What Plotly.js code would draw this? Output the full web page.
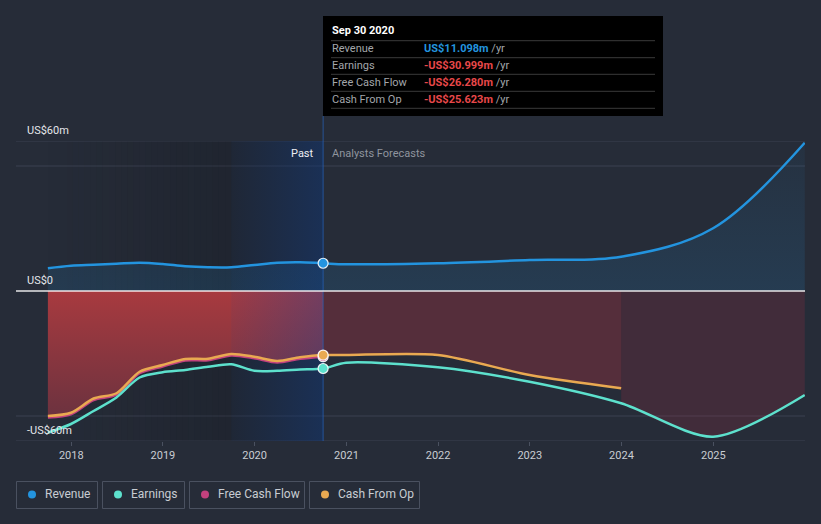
<!DOCTYPE html>
<html><head><meta charset="utf-8">
<script src="https://cdn.plot.ly/plotly-3.0.1.min.js"></script>
<style>html,body{margin:0;padding:0;background:#262c38;}#chart{width:821px;height:524px;}</style>
</head><body><div id="chart"></div>
<script>
// ---- data (US$ millions) ----
const pastDates = ['2017-09-30','2017-12-31','2018-03-31','2018-06-30','2018-09-30','2018-12-31','2019-03-31','2019-06-30','2019-09-30','2019-12-31','2020-03-31','2020-06-30','2020-09-30'];
const revenuePast  = [9.1, 10.1, 10.5, 10.9, 11.3, 10.8, 9.9, 9.5, 9.5, 10.4, 11.3, 11.5, 11.098];
const earningsPast = [-56.7, -53.2, -48.0, -42.6, -34.6, -32.5, -31.6, -30.3, -29.3, -31.9, -31.9, -31.4, -30.999];
const fcfPast      = [-50.6, -49.3, -43.6, -41.5, -32.9, -30.2, -27.8, -27.7, -25.8, -26.9, -28.6, -27.1, -26.280];
const cfoPast      = [-50.0, -48.7, -43.0, -40.9, -32.3, -29.6, -27.2, -27.1, -25.2, -26.3, -28.0, -26.5, -25.623];
const forecastDates    = ['2020-12-31','2021-12-31','2022-12-31','2023-12-31','2024-12-31','2025-12-31'];
const revenueForecast  = [10.7, 11.1, 12.4, 13.7, 25.1, 59.3];
const earningsForecast = [-28.7, -30.5, -36.3, -44.9, -58.3, -41.6];
const cfoForecast      = [-25.6, -25.6, -33.6, -38.9];
const yearTicks  = ['2018-01-01','2019-01-01','2020-01-01','2021-01-01','2022-01-01','2023-01-01','2024-01-01','2025-01-01'];
const yearLabels = ['2018','2019','2020','2021','2022','2023','2024','2025'];
const yLabelVals = [60, 0, -60];
const yLabelText = ['US$60m', 'US$0', '-US$60m'];
const seriesNames  = ['Revenue', 'Earnings', 'Free Cash Flow', 'Cash From Op'];
const seriesColors = ['#2394df', '#5de1cd', '#c2417e', '#e9a951'];

// ---- layout helpers ----
const W = 821, H = 524, ML = 16, MR = 16, MT = 141, MB = 83;
const PW = W - ML - MR, PH = H - MT - MB;
const px = x => (x - ML) / PW;
const py = y => (H - MB - y) / PH;
const Y_RANGE = [-60, 60];
const X_RANGE = ['2017-05-26', '2026-01-01'];
const FONT = 'Roboto, "Open Sans", sans-serif';
const ms = d => new Date(d + 'T00:00:00Z').getTime();
const iso = t => new Date(t).toISOString().slice(0, 19).replace('T', ' ');

const lastPast = pastDates[pastDates.length - 1];
const yearBefore = pastDates[pastDates.length - 5];
const revAllX = pastDates.concat(forecastDates), revAllY = revenuePast.concat(revenueForecast);
const earnAllX = pastDates.concat(forecastDates), earnAllY = earningsPast.concat(earningsForecast);
const cfoFX = [lastPast].concat(forecastDates.slice(0, cfoForecast.length));
const cfoFY = [cfoPast[cfoPast.length - 1]].concat(cfoForecast);
const cfoAllX = pastDates.concat(forecastDates.slice(0, cfoForecast.length));
const cfoAllY = cfoPast.concat(cfoForecast);
const earnFillX = forecastDates.slice(cfoForecast.length - 1);
const earnFillY = earningsForecast.slice(cfoForecast.length - 1);

const sp = {shape: 'spline', smoothing: 0.8};
const spR = {shape: 'spline', smoothing: 1.0};
const traces = [];
// revenue area
traces.push({x: revAllX, y: revAllY, type: 'scatter', mode: 'lines', line: Object.assign({width: 0}, spR),
  fill: 'tozeroy', fillgradient: {type: 'vertical', start: 0, stop: 60,
  colorscale: [[0, 'rgba(35,148,223,0.15)'], [1, 'rgba(35,148,223,0.05)']]}, hoverinfo: 'skip'});
// cash-from-op past area (gradient red)
traces.push({x: pastDates, y: cfoPast, type: 'scatter', mode: 'lines', line: Object.assign({width: 0}, sp),
  fill: 'tozeroy', fillgradient: {type: 'vertical', start: -52, stop: 0,
  colorscale: [[0, 'rgb(106,50,63)'], [1, 'rgb(168,58,63)']]}, hoverinfo: 'skip'});
// cash-from-op forecast area
traces.push({x: cfoFX, y: cfoFY, type: 'scatter', mode: 'lines', line: Object.assign({width: 0}, sp),
  fill: 'tozeroy', fillcolor: 'rgba(200,50,70,0.29)', hoverinfo: 'skip'});
// earnings forecast area after cash-from-op ends
traces.push({x: earnFillX, y: earnFillY, type: 'scatter', mode: 'lines', line: Object.assign({width: 0}, sp),
  fill: 'tozeroy', fillcolor: 'rgba(200,50,70,0.17)', hoverinfo: 'skip'});
// last-12-months highlight band
traces.push({x: [yearBefore, yearBefore, lastPast, lastPast, yearBefore], y: [Y_RANGE[0], Y_RANGE[1], Y_RANGE[1], Y_RANGE[0], Y_RANGE[0]],
  type: 'scatter', mode: 'lines', line: {width: 0}, fill: 'toself',
  fillgradient: {type: 'horizontal', colorscale: [[0, 'rgba(15,70,160,0.06)'], [1, 'rgba(15,70,160,0.34)']]}, hoverinfo: 'skip'});
// vertical marker line
traces.push({x: [lastPast, lastPast], y: Y_RANGE, type: 'scatter', mode: 'lines', line: {width: 1, color: 'rgba(40,100,190,0.7)'}, hoverinfo: 'skip'});
// lines
traces.push({x: pastDates, y: fcfPast, type: 'scatter', mode: 'lines', line: Object.assign({width: 2.5, color: seriesColors[2]}, sp)});
traces.push({x: earnAllX, y: earnAllY, type: 'scatter', mode: 'lines', line: Object.assign({width: 2.5, color: seriesColors[1]}, sp)});
traces.push({x: cfoAllX, y: cfoAllY, type: 'scatter', mode: 'lines', line: Object.assign({width: 2.5, color: seriesColors[3]}, sp)});
traces.push({x: revAllX, y: revAllY, type: 'scatter', mode: 'lines', line: Object.assign({width: 2.5, color: seriesColors[0]}, spR)});
// markers at last reported date
const lastVals = [revenuePast, earningsPast, fcfPast, cfoPast].map(a => a[a.length - 1]);
[2, 3, 1, 0].forEach(i => traces.push({x: [lastPast], y: [lastVals[i]], type: 'scatter', mode: 'markers',
  marker: {size: 10, color: seriesColors[i], line: {color: 'rgba(255,255,255,0.9)', width: 1.2}}, cliponaxis: false}));

// ---- shapes ----
const shapes = [];
const gridColor = '#3a4150';
[Y_RANGE[1], 50, -50, Y_RANGE[0]].forEach(v => shapes.push({type: 'line', xref: 'paper', yref: 'y', x0: 0, x1: 1, y0: v, y1: v,
  line: {color: gridColor, width: 1}, layer: 'below'}));
// past shade gradient
const N = 30, t0 = ms(pastDates[0]), t1 = ms(yearBefore), t2 = ms(lastPast);
for (let i = 0; i < N; i++) {
  const a = 0.2 * (i + 0.5) / N;
  shapes.push({type: 'rect', xref: 'x', yref: 'y', x0: iso(t0 + (t1 - t0) * i / N), x1: iso(t0 + (t1 - t0) * (i + 1) / N),
    y0: Y_RANGE[0], y1: Y_RANGE[1], fillcolor: 'rgba(8,10,16,' + a.toFixed(4) + ')', line: {width: 0}, layer: 'below'});
}
shapes.push({type: 'rect', xref: 'x', yref: 'y', x0: yearBefore, x1: lastPast, y0: Y_RANGE[0], y1: Y_RANGE[1],
  fillcolor: 'rgba(8,10,16,0.2)', line: {width: 0}, layer: 'below'});
// zero line
shapes.push({type: 'line', xref: 'paper', yref: 'y', x0: 0, x1: 1, y0: 0, y1: 0, line: {color: 'rgba(255,255,255,0.88)', width: 1.4}, layer: 'above'});
// vertical line up to tooltip
shapes.push({type: 'line', xref: 'x', yref: 'paper', x0: lastPast, x1: lastPast, y0: 1, y1: py(116), line: {color: 'rgba(40,100,190,0.7)', width: 1}, layer: 'above'});
// tooltip box
shapes.push({type: 'rect', xref: 'paper', yref: 'paper', x0: px(323), x1: px(663), y0: py(116), y1: py(16), fillcolor: '#000000', line: {width: 0}, layer: 'above'});
[40.7, 57.7, 74.3, 91.3, 108.3].forEach(y => shapes.push({type: 'line', xref: 'paper', yref: 'paper', x0: px(331), x1: px(655), y0: py(y), y1: py(y),
  line: {color: '#3a3a3a', width: 1}, layer: 'above'}));
// legend boxes
const legBoxes = [[16, 97], [102, 184], [189, 304], [309, 419]];
legBoxes.forEach((b, i) => {
  shapes.push({type: 'rect', xref: 'paper', yref: 'paper', x0: px(b[0] + 0.5), x1: px(b[1] + 0.5), y0: py(508.5), y1: py(481.5),
    fillcolor: 'rgba(0,0,0,0)', line: {color: '#4a5160', width: 1}, layer: 'above'});
  const cx = b[0] + 16, cy = 494.5;
  shapes.push({type: 'circle', xref: 'paper', yref: 'paper', x0: px(cx - 4), x1: px(cx + 4), y0: py(cy + 4), y1: py(cy - 4),
    fillcolor: seriesColors[i], line: {width: 0}, layer: 'above'});
});

// ---- annotations ----
const ann = [];
yLabelVals.forEach((v, i) => ann.push({xref: 'paper', yref: 'y', x: px(25), y: v, yshift: 11, xanchor: 'left', yanchor: 'middle',
  text: yLabelText[i], showarrow: false, font: {family: FONT, size: 11, color: '#e4e6ea'}}));
ann.push({xref: 'x', yref: 'paper', x: lastPast, y: py(153), xshift: -7, xanchor: 'right', yanchor: 'middle', text: 'Past',
  showarrow: false, font: {family: FONT, size: 11, color: '#eceef2'}});
ann.push({xref: 'x', yref: 'paper', x: lastPast, y: py(153), xshift: 7, xanchor: 'left', yanchor: 'middle', text: 'Analysts Forecasts',
  showarrow: false, font: {family: FONT, size: 11, color: '#8f949e'}});
legBoxes.forEach((b, i) => ann.push({xref: 'paper', yref: 'paper', x: px(b[0] + 27), y: py(494.5), xanchor: 'left', yanchor: 'middle',
  text: seriesNames[i], showarrow: false, font: {family: FONT, size: 12, color: '#c8ccd2'}}));
// tooltip
const months = ['Jan','Feb','Mar','Apr','May','Jun','Jul','Aug','Sep','Oct','Nov','Dec'];
const dp = lastPast.split('-');
const dateText = months[+dp[1] - 1] + ' ' + (+dp[2]) + ' ' + dp[0];
ann.push({xref: 'paper', yref: 'paper', x: px(330), y: py(31), xanchor: 'left', yanchor: 'middle', text: '<b>' + dateText + '</b>',
  showarrow: false, font: {family: FONT, size: 11, color: '#ffffff'}});
const fmt = v => (v < 0 ? '-' : '') + 'US$' + Math.abs(v).toFixed(3) + 'm';
const rowYs = [48.3, 65.2, 82.2, 99.2];
seriesNames.forEach((n, i) => {
  const v = lastVals[i];
  const col = v < 0 ? '#e8484a' : '#2394df';
  ann.push({xref: 'paper', yref: 'paper', x: px(330), y: py(rowYs[i]), xanchor: 'left', yanchor: 'middle', text: n,
    showarrow: false, font: {family: FONT, size: 11, color: '#a3a6ab'}});
  ann.push({xref: 'paper', yref: 'paper', x: px(422), y: py(rowYs[i]), xanchor: 'left', yanchor: 'middle',
    text: '<span style="color:' + col + ';font-weight:bold">' + fmt(v) + '</span> /yr',
    showarrow: false, font: {family: FONT, size: 11, color: '#a3a6ab'}});
});

const layout = {
  width: W, height: H, margin: {l: ML, r: MR, t: MT, b: MB, pad: 0},
  paper_bgcolor: '#262c38', plot_bgcolor: '#262c38', showlegend: false,
  font: {family: FONT, color: '#c8ccd2'},
  xaxis: {type: 'date', range: X_RANGE, tickvals: yearTicks, ticktext: yearLabels, showgrid: false, zeroline: false,
    showline: false, ticks: 'outside', ticklen: 4, tickcolor: '#4a5160', tickfont: {family: FONT, size: 11, color: '#c9cdd3'}, fixedrange: true},
  yaxis: {range: Y_RANGE, showgrid: false, zeroline: false, showticklabels: false, ticks: '', fixedrange: true},
  shapes: shapes, annotations: ann, hovermode: false
};
Plotly.newPlot('chart', traces, layout, {displayModeBar: false, staticPlot: true});
</script></body></html>
